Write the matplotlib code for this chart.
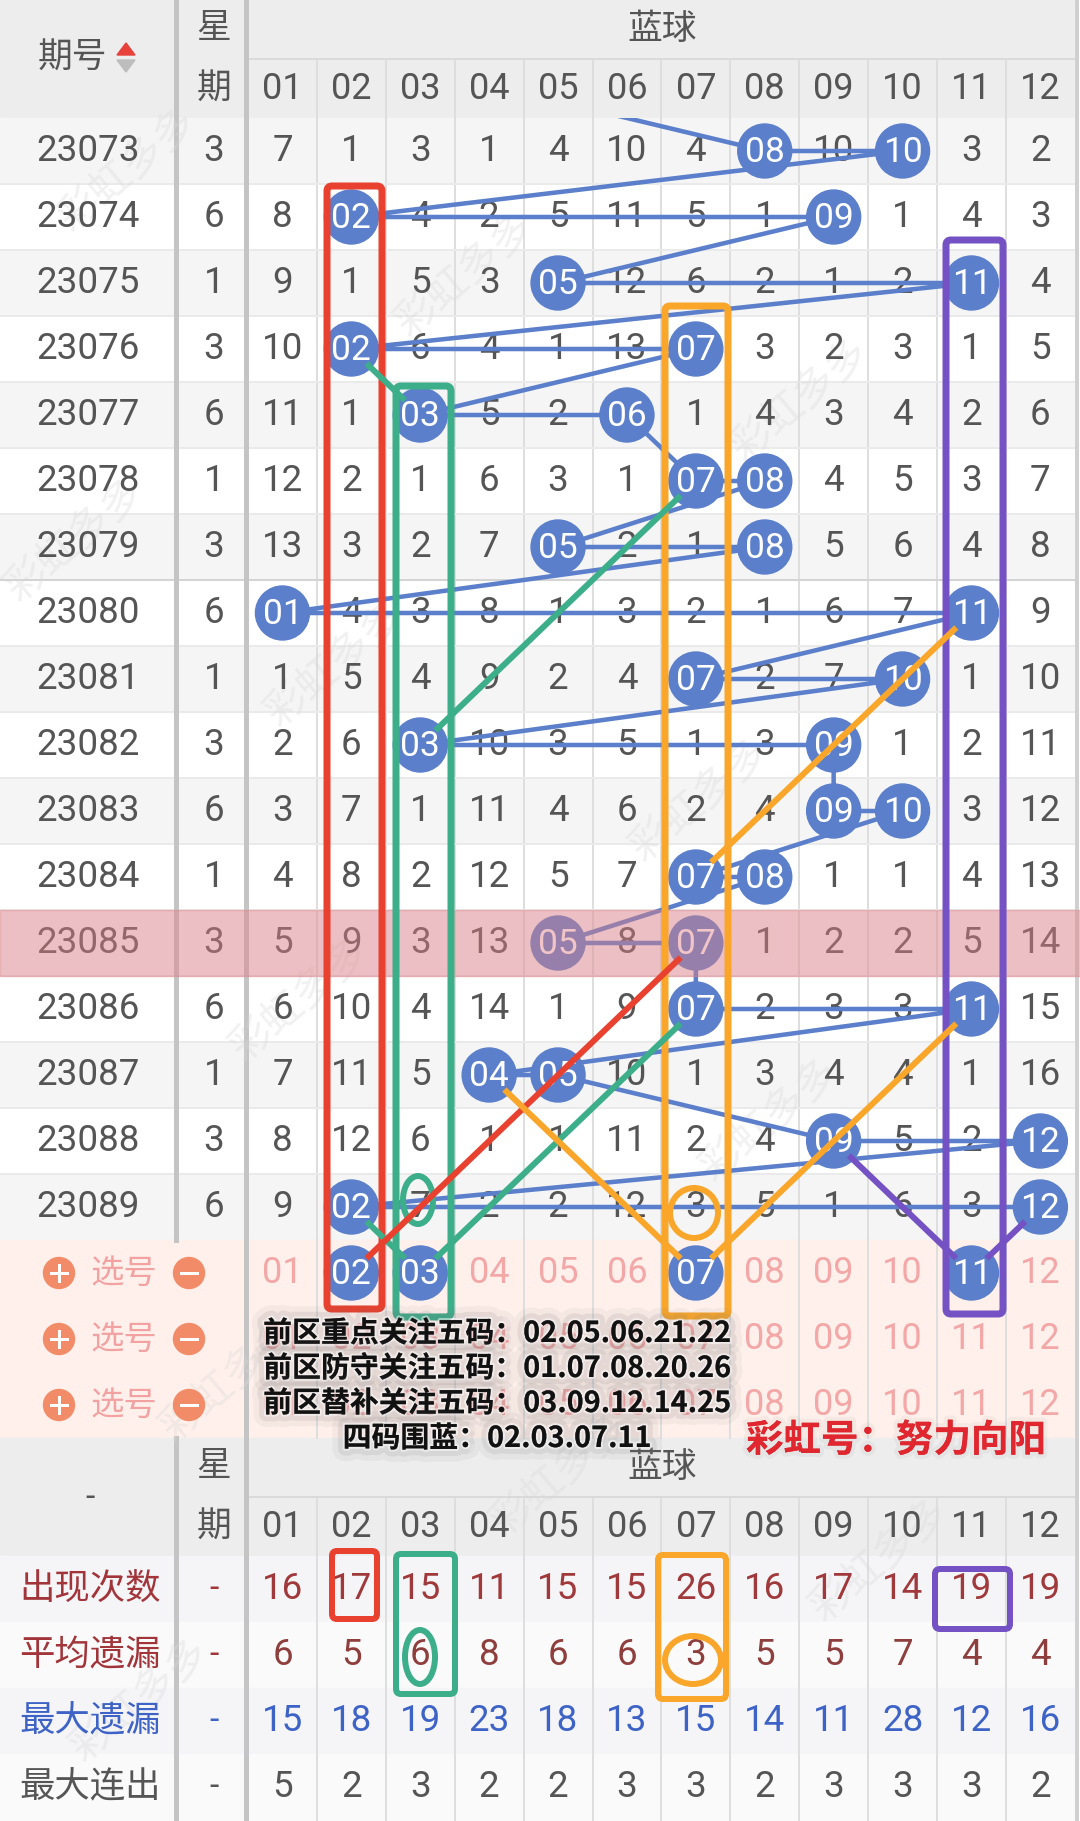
import matplotlib
matplotlib.use('Agg')
import matplotlib.pyplot as plt
import matplotlib.patheffects as pe
from matplotlib.patches import Rectangle, Circle, Ellipse, FancyBboxPatch, Polygon

# ---- data ----
periods = ['23073', '23074', '23075', '23076', '23077', '23078', '23079', '23080', '23081',
           '23082', '23083', '23084', '23085', '23086', '23087', '23088', '23089']
weekdays = [3, 6, 1, 3, 6, 1, 3, 6, 1, 3, 6, 1, 3, 6, 1, 3, 6]
# omission counts per blue ball column (0 = drawn that period)
omission = [
    [7, 1, 3, 1, 4, 10, 4, 0, 10, 0, 3, 2],
    [8, 0, 4, 2, 5, 11, 5, 1, 0, 1, 4, 3],
    [9, 1, 5, 3, 0, 12, 6, 2, 1, 2, 0, 4],
    [10, 0, 6, 4, 1, 13, 0, 3, 2, 3, 1, 5],
    [11, 1, 0, 5, 2, 0, 1, 4, 3, 4, 2, 6],
    [12, 2, 1, 6, 3, 1, 0, 0, 4, 5, 3, 7],
    [13, 3, 2, 7, 0, 2, 1, 0, 5, 6, 4, 8],
    [0, 4, 3, 8, 1, 3, 2, 1, 6, 7, 0, 9],
    [1, 5, 4, 9, 2, 4, 0, 2, 7, 0, 1, 10],
    [2, 6, 0, 10, 3, 5, 1, 3, 0, 1, 2, 11],
    [3, 7, 1, 11, 4, 6, 2, 4, 0, 0, 3, 12],
    [4, 8, 2, 12, 5, 7, 0, 0, 1, 1, 4, 13],
    [5, 9, 3, 13, 0, 8, 0, 1, 2, 2, 5, 14],
    [6, 10, 4, 14, 1, 9, 0, 2, 3, 3, 0, 15],
    [7, 11, 5, 0, 0, 10, 1, 3, 4, 4, 1, 16],
    [8, 12, 6, 1, 1, 11, 2, 4, 0, 5, 2, 0],
    [9, 0, 7, 2, 2, 12, 3, 5, 1, 6, 3, 0],
]
draws = [(8, 10), (2, 9), (5, 11), (2, 7), (3, 6), (7, 8), (5, 8), (1, 11), (7, 10),
         (3, 9), (9, 10), (7, 8), (5, 7), (7, 11), (4, 5), (9, 12), (2, 12)]
prev_ball = 4          # second ball of the period above the visible window
highlight_period = '23085'
pick_balls = [2, 3, 7, 11]
ball_labels = ['%02d' % b for b in range(1, 13)]

stat_labels = ['出现次数', '平均遗漏', '最大遗漏', '最大连出']
appear = [16, 17, 15, 11, 15, 15, 26, 16, 17, 14, 19, 19]
avg_miss = [6, 5, 6, 8, 6, 6, 3, 5, 5, 7, 4, 4]
max_miss = [15, 18, 19, 23, 18, 13, 15, 14, 11, 28, 12, 16]
max_run = [5, 2, 3, 2, 2, 3, 3, 2, 3, 3, 3, 2]
stats = [appear, avg_miss, max_miss, max_run]

notes = ['前区重点关注五码：02.05.06.21.22',
         '前区防守关注五码：01.07.08.20.26',
         '前区替补关注五码：03.09.12.14.25',
         '四码围蓝：02.03.07.11']
signature = '彩虹号：努力向阳'
watermark = '彩虹多多'

# hand-drawn links: colour, (row, ball), (row, ball); row 17 = first pick row
links = [
    ('#3DAE8A', (3, 2), (4, 3)),
    ('#3DAE8A', (9, 3), (5, 7)),
    ('#3DAE8A', (13, 7), (17, 3)),
    ('#3DAE8A', (16, 2), (17, 3)),
    ('#E8412F', (17, 2), (12, 7)),
    ('#F9A62A', (11, 7), (7, 11)),
    ('#F9A62A', (14, 4), (17, 7)),
    ('#F9A62A', (17, 7), (13, 11)),
    ('#7452C4', (15, 9), (17, 11)),
    ('#7452C4', (17, 11), (16, 12)),
]

# ---- layout ----
W, H = 1080, 1821
X0, CW = 248, 68.9
ROW0, RH = 118, 66
N = len(periods)
SEL0 = ROW0 + N * RH            # 1240
BH0 = SEL0 + 3 * RH             # 1438
ST0 = BH0 + 118                 # 1556
R = 27
BLUE = '#5B7FCA'
GREY_T = '#555555'
CJK = ['Noto Sans CJK SC', 'DejaVu Sans']
NUM = ['Roboto', 'DejaVu Sans']
PX = 0.72


def cx(c):
    return X0 + (c - 0.5) * CW


def ry(i):
    return ROW0 + (i + 0.5) * RH


fig = plt.figure(figsize=(W / 100, H / 100), dpi=100)
ax = fig.add_axes([0, 0, 1, 1])
ax.set_xlim(0, W)
ax.set_ylim(H, 0)
ax.axis('off')

# ---- backgrounds ----
ax.add_patch(Rectangle((0, 0), W, 118, color='#EDEDED', zorder=0))
for i in range(N):
    ax.add_patch(Rectangle((0, ROW0 + i * RH), W, RH,
                           color='#F5F5F5' if i % 2 == 0 else 'white', zorder=0))
ax.add_patch(Rectangle((0, SEL0), W, 3 * RH, color='#FFF0EB', zorder=0))
ax.add_patch(Rectangle((0, BH0), W, 118, color='#EDEDED', zorder=0))
for k in range(4):
    ax.add_patch(Rectangle((0, ST0 + k * RH), W, RH,
                           color='#F5F5F8' if k % 2 == 0 else '#FAFAFA', zorder=0))
ax.add_patch(Rectangle(((X0 + 12 * CW), 0), W, H, color='white', zorder=0.5))

# faint watermarks
for (x, y) in [(128, 170), (465, 275), (800, 400), (75, 540), (335, 665), (700, 800),
               (300, 1000), (770, 1120), (230, 1380), (560, 1475), (880, 1560), (140, 1700)]:
    ax.text(x, y, watermark, fontsize=30, family=CJK, color='#D9D9D9', alpha=0.35,
            rotation=40, ha='center', va='center', zorder=2.5)

# grid
for c in range(1, 12):
    x = X0 + c * CW
    ax.plot([x, x], [59, BH0], color='#DEDEDE', lw=2 * PX, zorder=1)
    ax.plot([x, x], [BH0 + 59, H], color='#DEDEDE', lw=2 * PX, zorder=1)
ax.plot([X0, X0 + 12 * CW], [59, 59], color='#DADADA', lw=2 * PX, zorder=1)
ax.plot([X0, X0 + 12 * CW], [BH0 + 59, BH0 + 59], color='#DADADA', lw=2 * PX, zorder=1)
for i in range(1, N):
    ax.plot([0, X0 + 12 * CW], [ROW0 + i * RH] * 2,
            color='#D4D4D4' if i == 7 else '#EAEAEA', lw=2 * PX, zorder=1)
for x0, y_ranges in [(175.5, [(0, SEL0), (BH0, H)]), (245.5, [(0, H)])]:
    for ya, yb in y_ranges:
        ax.plot([x0, x0], [ya, yb], color='#C4C4C4', lw=5 * PX, zorder=1.5)
ax.plot([X0 + 12 * CW + 2, X0 + 12 * CW + 2], [0, H], color='#D0D0D0', lw=4 * PX, zorder=1.5)

# ---- headers ----
for top in (0, BH0):
    ax.text(662, top + 29, '蓝球', fontsize=25, family=CJK, color=GREY_T,
            ha='center', va='center', zorder=3)
    ax.text(214, top + 29, '星', fontsize=25, family=CJK, color=GREY_T,
            ha='center', va='center', zorder=3)
    ax.text(214, top + 89, '期', fontsize=25, family=CJK, color=GREY_T,
            ha='center', va='center', zorder=3)
    for c in range(1, 13):
        ax.text(cx(c), top + 89, ball_labels[c - 1], fontsize=26, family=NUM,
                color=GREY_T, ha='center', va='center', zorder=3)
ax.text(72, 58, '期号', fontsize=25, family=CJK, color=GREY_T, ha='center', va='center', zorder=3)
ax.add_patch(Polygon([[117, 55], [135, 55], [126, 43]], color='#E8413A', zorder=3))
ax.add_patch(Polygon([[117, 60], [135, 60], [126, 72]], color='#BDBDBD', zorder=3))
ax.text(90, BH0 + 60, '-', fontsize=24, family=NUM, color=GREY_T, ha='center', va='center', zorder=3)

# ---- data rows ----
for i, per in enumerate(periods):
    y = ry(i)
    ax.text(88, y, per, fontsize=26.5, family=NUM, color=GREY_T, ha='center', va='center', zorder=3)
    ax.text(214, y, str(weekdays[i]), fontsize=26.5, family=NUM, color=GREY_T,
            ha='center', va='center', zorder=3)
    for c in range(1, 13):
        v = omission[i][c - 1]
        if v:
            ax.text(cx(c), y, str(v), fontsize=26.5, family=NUM, color=GREY_T,
                    ha='center', va='center', zorder=3)

# blue trend line through the draws
clip = Rectangle((0, ROW0), W, N * RH, transform=ax.transData)
pts = [(cx(prev_ball), ry(-1))]
for i, (a, b) in enumerate(draws):
    pts += [(cx(a), ry(i)), (cx(b), ry(i))]
ln, = ax.plot([p[0] for p in pts], [p[1] for p in pts], color=BLUE, lw=4.5 * PX,
              zorder=4, solid_capstyle='butt')
ln.set_clip_path(clip)


def ball(x, y, label):
    ax.add_patch(Circle((x, y), R, color=BLUE, zorder=5))
    ax.text(x, y + 1, label, fontsize=25.5, family=NUM, color='white',
            ha='center', va='center', zorder=6)


for i, (a, b) in enumerate(draws):
    for c in (a, b):
        ball(cx(c), ry(i), ball_labels[c - 1])

# highlight row overlay
hi = periods.index(highlight_period)
ax.add_patch(Rectangle((0, ROW0 + hi * RH), W, RH, color='#E07F86', alpha=0.45, zorder=7))

# ---- pick rows ----
for k in range(3):
    y = ry(N + k)
    for x0 in (59, 189):
        ax.add_patch(Circle((x0, y), 15.5, color='#F28C68', zorder=3))
    ax.plot([51, 67], [y, y], color='white', lw=3 * PX, zorder=3.5)
    ax.plot([59, 59], [y - 8, y + 8], color='white', lw=3 * PX, zorder=3.5)
    ax.plot([181, 197], [y, y], color='white', lw=3 * PX, zorder=3.5)
    ax.text(124, y, '选号', fontsize=24, family=CJK, color='#F3A2A2',
            ha='center', va='center', zorder=3)
    for c in range(1, 13):
        if k == 0 and c in pick_balls:
            ball(cx(c), y, ball_labels[c - 1])
        else:
            ax.text(cx(c), y, ball_labels[c - 1], fontsize=26, family=NUM,
                    color='#F4A7A7', ha='center', va='center', zorder=3)

# ---- stats rows ----
stat_colors = ['#A2353A', '#A2353A', '#3E63C6', '#555555']
val_colors = ['#A0393B', '#8E3E3C', '#3E63C6', '#555555']
for k, lab in enumerate(stat_labels):
    y = ST0 + (k + 0.5) * RH
    ax.text(90, y, lab, fontsize=25.5, family=CJK, color=stat_colors[k],
            ha='center', va='center', zorder=3)
    ax.text(214, y, '-', fontsize=24, family=NUM, color=stat_colors[k],
            ha='center', va='center', zorder=3)
    for c in range(1, 13):
        ax.text(cx(c), y, str(stats[k][c - 1]), fontsize=26.5, family=NUM,
                color=val_colors[k], ha='center', va='center', zorder=3)

# ---- hand-drawn annotations ----
def box(x0, y0, x1, y1, color, lw=7):
    ax.add_patch(FancyBboxPatch((x0, y0), x1 - x0, y1 - y0,
                                boxstyle='round,pad=0,rounding_size=5',
                                fill=False, ec=color, lw=lw * PX, zorder=8))


box(327, 186, 382, 1309, '#E8412F')
box(396, 386, 451, 1317, '#3DAE8A')
box(665, 306, 728, 1316, '#F9A62A')
box(946, 240, 1003, 1314, '#7452C4')
box(332, 1551, 377, 1619, '#E8412F', 6)
box(396, 1554, 455, 1694, '#3DAE8A', 6)
box(658, 1555, 726, 1699, '#F9A62A', 6)
box(935, 1569, 1010, 1629, '#7452C4', 6)
for (x, y, w, h, col) in [(418, 1200, 30, 48, '#3DAE8A'), (694, 1213, 48, 50, '#F9A62A'),
                          (420, 1657, 30, 54, '#3DAE8A'), (693, 1660, 56, 48, '#F9A62A')]:
    ax.add_patch(Ellipse((x, y), w, h, fill=False, ec=col, lw=6 * PX, zorder=8))

for col, (r1, c1), (r2, c2) in links:
    xa, ya, xb, yb = cx(c1), ry(r1), cx(c2), ry(r2)
    d = ((xb - xa) ** 2 + (yb - ya) ** 2) ** 0.5
    ux, uy = (xb - xa) / d, (yb - ya) / d
    s = 21
    ax.plot([xa + ux * s, xb - ux * s], [ya + uy * s, yb - uy * s], color=col,
            lw=6 * PX, zorder=8, solid_capstyle='butt')

# ---- overlaid notes ----
shadow = [pe.Stroke(linewidth=18, foreground=(0.45, 0.45, 0.45, 0.07)),
          pe.Stroke(linewidth=10, foreground=(0.45, 0.45, 0.45, 0.12)),
          pe.Stroke(linewidth=3, foreground=(1, 1, 1, 0.5)), pe.Normal()]
for j, line in enumerate(notes):
    ax.text(497, 1333 + j * 35, line, fontsize=20.8, family=CJK, color='#111111',
            weight='bold', ha='center', va='center', zorder=10, path_effects=shadow)
ax.text(896, 1440, signature, fontsize=27, family=CJK, color='#E0262E', weight='bold',
        ha='center', va='center', zorder=10,
        path_effects=[pe.Stroke(linewidth=6, foreground=(0.5, 0.5, 0.5, 0.08)), pe.Normal()])

fig.savefig('out.png', dpi=100)
